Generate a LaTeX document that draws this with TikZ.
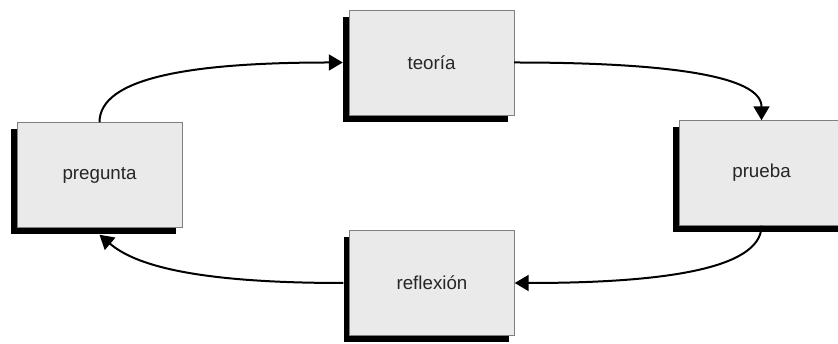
\documentclass[tikz,border=0pt]{standalone}
\usepackage{fontspec}
\setmainfont{Liberation Sans}
\usetikzlibrary{arrows.meta,shadows}
\definecolor{boxgray}{HTML}{EAEAEA}
\def\bw{49.5mm}
\def\bh{31.5mm}
\tikzset{
    stage/.style={draw=gray,thin,fill=boxgray,minimum width=\bw,minimum height=\bh,text=black!85,font=\fontsize{16}{19}\selectfont,
        drop shadow={shadow xshift=-1.8mm,shadow yshift=-2.1mm,fill=black,opacity=1}},
    flow/.style={-{Triangle[length=4.2mm,width=4.8mm]},line width=0.6mm},
    under/.style={yshift=-2.1mm},
    behind/.style={xshift=-1.8mm}
}

\begin{document}
\begin{tikzpicture}[x=0.3mm,y=0.3mm]
  \clip (0,0) rectangle (838,344);

  % Stages
  \node[stage] (pregunta) at (99.5,169) {pregunta};
  \node[stage] (teoria) at (431.5,281.5) {teoría};
  \node[stage] (prueba) at (761.5,171) {prueba};
  \node[stage] (reflexion) at (432,61) {reflexión};

  % Cycle
  \draw[flow] (pregunta.north) .. controls +(0,45) and +(-150,0) .. ([behind]teoria.west);
  \draw[flow] (teoria.east) .. controls +(150,0) and +(0,45) .. (prueba.north);
  \draw[flow] (prueba.south) .. controls +(0,-45) and +(140,0) .. (reflexion.east);
  \draw[flow] ([behind]reflexion.west) .. controls +(-150,0) and +(35,-30) .. ([under]pregunta.south);
\end{tikzpicture}
\end{document}
